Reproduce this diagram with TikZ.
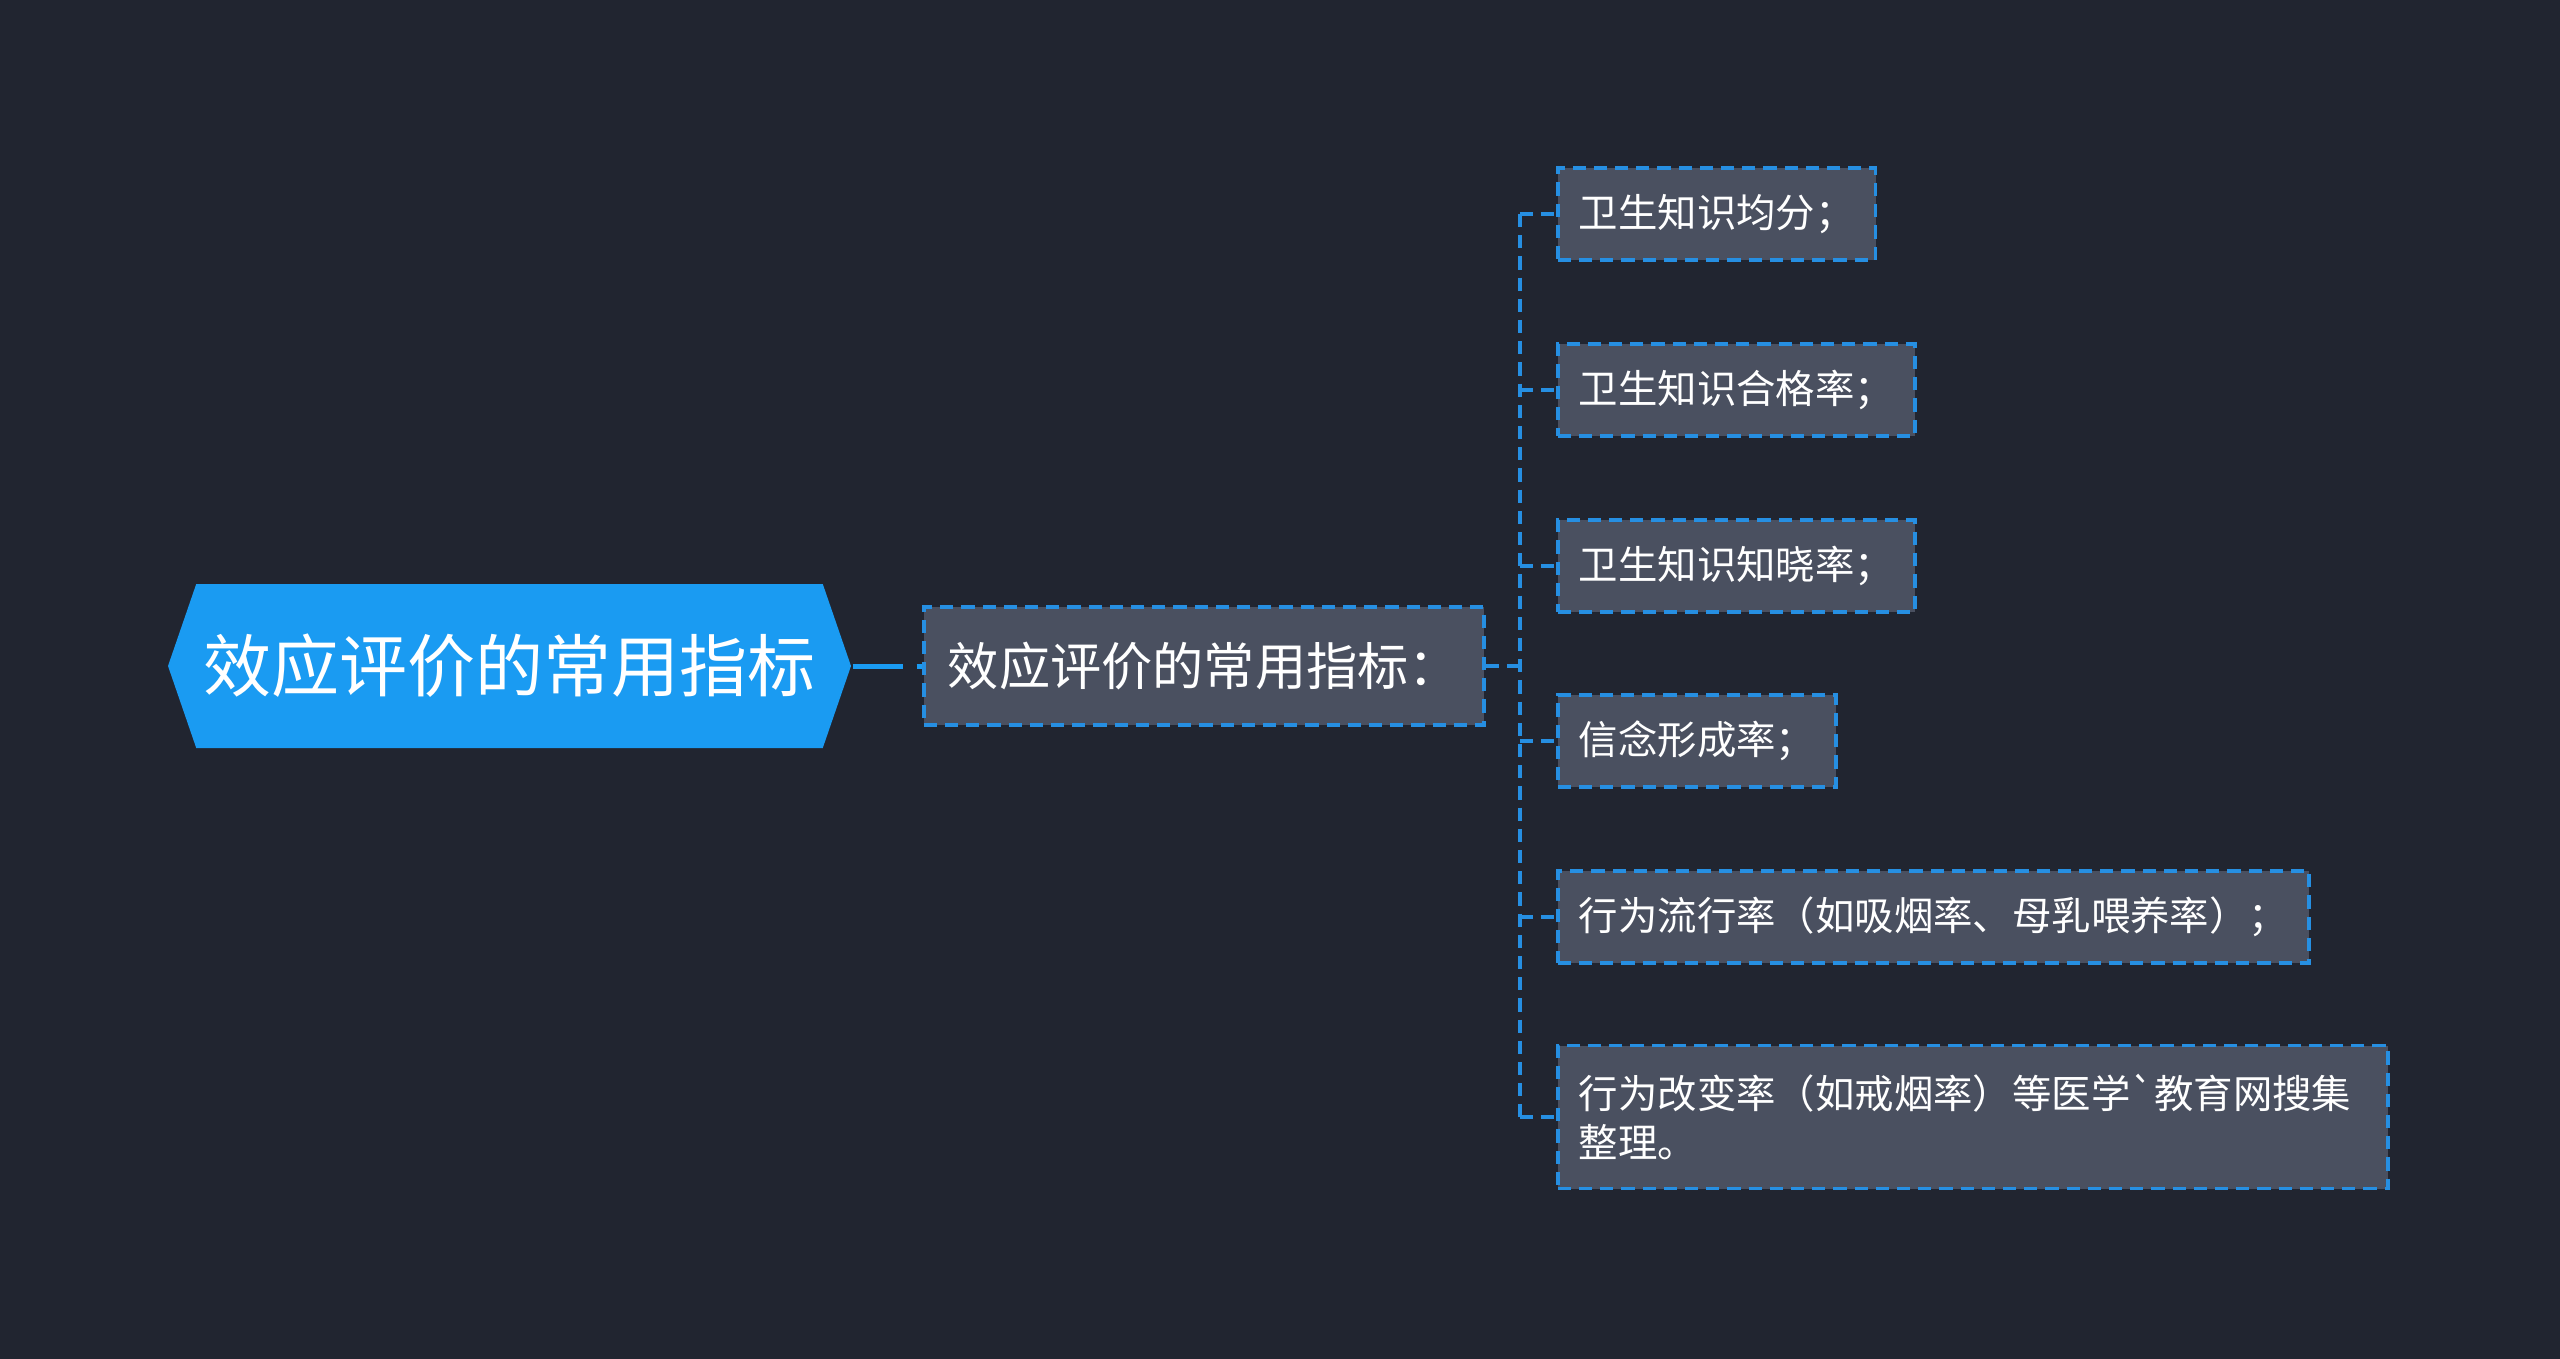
\documentclass[tikz,border=0pt]{standalone}
\usepackage{fontspec}
\setmainfont{Noto Sans CJK SC}[Ligatures=TeXOff]
\usetikzlibrary{shapes.symbols}

\definecolor{bgdark}{RGB}{33,37,48}
\definecolor{rootblue}{RGB}{26,155,242}
\definecolor{boxgrey}{RGB}{74,80,96}
\definecolor{linkblue}{RGB}{38,143,226}

\tikzset{every picture/.style={line width=0.75pt}}
\tikzset{
  link/.style={draw=linkblue, line width=0.9pt, dash pattern=on 3.3pt off 2pt},
  leaf/.style={link, fill=boxgrey, text=white, anchor=west, inner xsep=5.25pt, minimum height=23pt, font=\fontsize{9.85pt}{12.3pt}\selectfont}
}

\begin{document}
\begin{tikzpicture}[x=0.25pt,y=0.25pt,yscale=-1,xscale=1]
        \fill[bgdark] (0,0) rectangle (2560,1359);
        \useasboundingbox (0,0) rectangle (2560,1359);

        \node[signal, signal to=west and east, signal pointer angle=142, fill=rootblue, text=white, inner sep=0pt, minimum width=170.75pt, minimum height=41pt, font=\fontsize{17pt}{20pt}\selectfont] (root) at (509.5,666) {效应评价的常用指标};
        \node[link, fill=boxgrey, text=white, anchor=west, minimum width=140pt, minimum height=29.5pt, font=\fontsize{12.8pt}{15pt}\selectfont] (mid) at (922,666) {效应评价的常用指标：};

        \node[leaf] (c1) at (1556,214) {卫生知识均分；};
        \node[leaf] (c2) at (1556,390) {卫生知识合格率；};
        \node[leaf] (c3) at (1556,566) {卫生知识知晓率；};
        \node[leaf] (c4) at (1556,741) {信念形成率；};
        \node[leaf] (c5) at (1556,917) {行为流行率（如吸烟率、母乳喂养率）；};
        \node[leaf, text width=197pt, align=left, minimum height=35.75pt] (c6) at (1556,1117) {行为改变率（如戒烟率）等医学`教育网搜集\\整理。};

        \coordinate (bus) at (1520,666);
        \draw[rootblue, line width=1.25pt, dash pattern=on 12.5pt off 3.5pt on 10pt] (root.east) -- (mid.west);
        \draw[link] (mid.east) -- (bus);
        \draw[link] (c1.west -| bus) -- (c6.west -| bus);
        \foreach \i in {1,...,6}
            \draw[link] (c\i.west -| bus) -- (c\i.west);
\end{tikzpicture}
\end{document}
